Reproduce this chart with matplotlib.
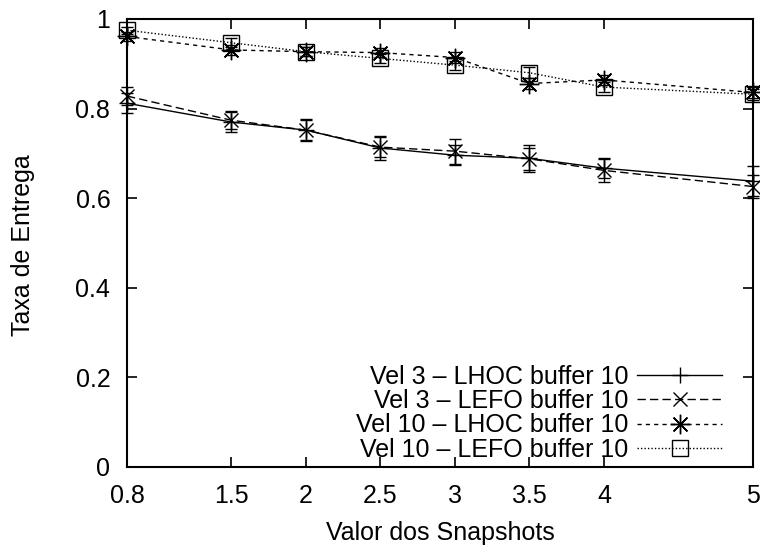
import matplotlib
matplotlib.use("Agg")
import matplotlib.pyplot as plt
from matplotlib.lines import Line2D

plt.rcParams['font.family'] = ['Liberation Sans', 'DejaVu Sans']

x = [0.8, 1.5, 2, 2.5, 3, 3.5, 4, 5]
xticklabels = ["0.8", "1.5", "2", "2.5", "3", "3.5", "4", "5"]

v3_lhoc = [0.812, 0.770, 0.752, 0.712, 0.696, 0.689, 0.667, 0.638]
v3_lhoc_err = [0.022, 0.022, 0.025, 0.026, 0.022, 0.030, 0.022, 0.034]
v3_lefo = [0.828, 0.774, 0.752, 0.714, 0.705, 0.688, 0.662, 0.626]
v3_lefo_err = [0.020, 0.020, 0.022, 0.022, 0.028, 0.025, 0.025, 0.025]
v10_lhoc = [0.961, 0.931, 0.927, 0.925, 0.914, 0.856, 0.864, 0.836]
v10_lhoc_err = [0.010, 0.012, 0.010, 0.010, 0.012, 0.012, 0.012, 0.012]
v10_lefo = [0.975, 0.947, 0.927, 0.912, 0.897, 0.880, 0.848, 0.832]
v10_lefo_err = [0.008, 0.010, 0.010, 0.010, 0.010, 0.012, 0.012, 0.012]

labels = ["Vel 3 \u2013 LHOC buffer 10", "Vel 3 \u2013 LEFO buffer 10",
          "Vel 10 \u2013 LHOC buffer 10", "Vel 10 \u2013 LEFO buffer 10"]

fig = plt.figure(figsize=(7.6, 5.49), dpi=100)
ax = fig.add_axes([127/760, 1-467/549, (753-127)/760, (467-19)/549])

series = [
    (v3_lhoc, v3_lhoc_err, '-', '+', 12),
    (v3_lefo, v3_lefo_err, (0, (6, 3)), 'x', 10),
    (v10_lhoc, v10_lhoc_err, (0, (3, 3)), (8, 2, 0), 14),
    (v10_lefo, v10_lefo_err, (0, (1, 1.5)), 's', 11),
]
handles = []
for (ys, es, ls, mk, ms), lab in zip(series, labels):
    ax.errorbar(x, ys, yerr=es, color='black', linestyle=ls, linewidth=1.0,
                marker=mk, markersize=ms, markerfacecolor='none',
                markeredgecolor='black', markeredgewidth=1.0,
                ecolor='black', elinewidth=1.0, capsize=4, clip_on=False)
    handles.append(Line2D([], [], color='black', linestyle=ls, linewidth=1.0,
                          marker=mk, markersize=ms, markerfacecolor='none',
                          markeredgecolor='black', markeredgewidth=1.0))

ax.set_xlim(0.8, 5)
ax.set_ylim(0, 1)
ax.set_xticks(x)
ax.set_xticklabels(xticklabels)
ax.set_yticks([0, 0.2, 0.4, 0.6, 0.8, 1])
ax.set_yticklabels(["0", "0.2", "0.4", "0.6", "0.8", "1"])
ax.tick_params(direction='in', top=True, right=True, length=7, width=1.2,
               labelsize=18, pad=12)
for s in ax.spines.values():
    s.set_linewidth(1.5)

ax.set_xlabel("Valor dos Snapshots", fontsize=18, va='center')
ax.set_ylabel("Taxa de Entrega", fontsize=18, va='center')
ax.xaxis.set_label_coords(440/760, 1-533/549, transform=fig.transFigure)
ax.yaxis.set_label_coords(23/760, 1-245/549, transform=fig.transFigure)

fig.legend(handles, labels, loc='lower right', frameon=False, markerfirst=False,
           fontsize=18, handlelength=3.4, labelspacing=0.02, borderaxespad=0,
           borderpad=0, handletextpad=0.35, numpoints=1,
           bbox_to_anchor=(722/760, 1-462/549))

fig.savefig("out.png", dpi=100)
